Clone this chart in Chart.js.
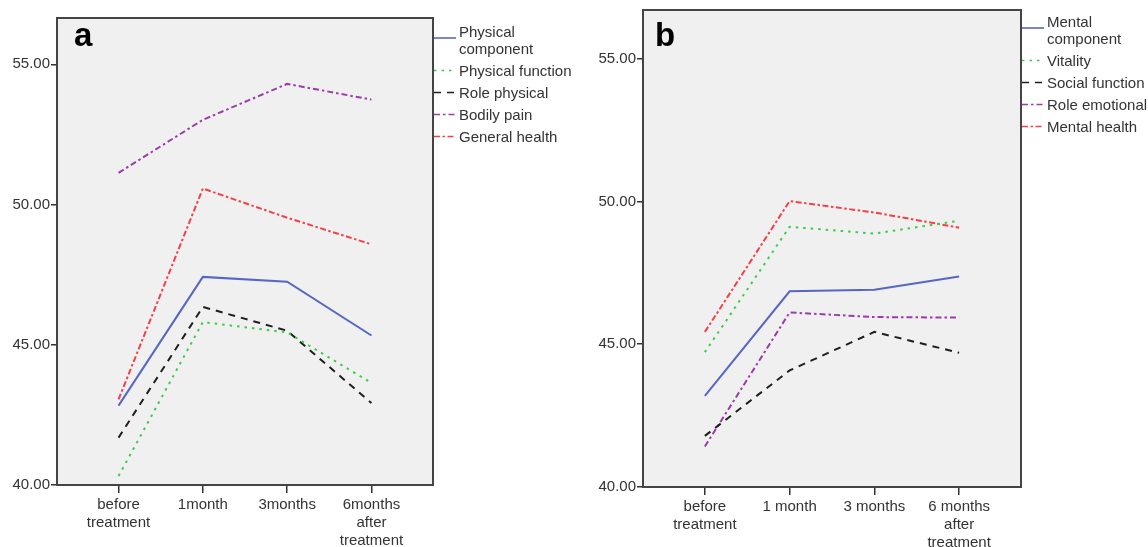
<!DOCTYPE html>
<html>
<head>
<meta charset="utf-8">
<script src="https://cdn.jsdelivr.net/npm/chart.js@4.4.1/dist/chart.umd.min.js"></script>
<style>
  html, body { margin: 0; padding: 0; background: #fff; }
  #wrap { position: relative; width: 1148px; height: 547px; }
  canvas { position: absolute; top: 0; }
</style>
</head>
<body>
<div id="wrap">
  <canvas id="chartA" width="574" height="547" style="left:0"></canvas>
  <canvas id="chartB" width="574" height="547" style="left:574px"></canvas>
</div>
<script>
// time points (x axis)
const timeLabelsA = [['before', 'treatment'], '1month', '3months', ['6months', 'after', 'treatment']];
const timeLabelsB = [['before', 'treatment'], '1 month', '3 months', ['6 months', 'after', 'treatment']];
const yTicks = [40, 45, 50, 55];

// panel a - physical scores
const physicalComponent = [42.83, 47.42, 47.25, 45.33];
const physicalFunction = [40.32, 45.81, 45.44, 43.64];
const rolePhysical = [41.69, 46.35, 45.50, 42.92];
const bodilyPain = [51.13, 53.02, 54.30, 53.74];
const generalHealth = [43.05, 50.57, 49.53, 48.58];

// panel b - mental scores
const mentalComponent = [43.19, 46.85, 46.91, 47.37];
const vitality = [44.72, 49.11, 48.87, 49.32];
const socialFunction = [41.79, 44.08, 45.43, 44.70];
const roleEmotional = [41.42, 46.11, 45.95, 45.93];
const mentalHealth = [45.43, 50.01, 49.61, 49.08];

const FONT = '"Liberation Sans", Arial, sans-serif';
const TXT = '#333';

// line styles shared by both panels
const styles = [
  { color: '#5766c4', dash: [] },
  { color: '#3ccb4c', dash: [2.5, 5] },
  { color: '#1e1e1e', dash: [7, 6] },
  { color: '#9a3da8', dash: [6, 3, 2.5, 3] },
  { color: '#f2404a', dash: [6, 2.5, 2.5, 2.5] }
];

function toPoints(vals) {
  return vals.map((v, i) => ({ x: i, y: v }));
}

function makeDatasets(labels, series) {
  return series.map((vals, i) => ({
    label: labels[i],
    data: toPoints(vals),
    borderColor: styles[i].color,
    borderDash: styles[i].dash,
    borderWidth: 2,
    pointRadius: 0,
    tension: 0,
    fill: false
  }));
}

// background, frame, panel letter and SPSS-like legend
const panelDeco = {
  id: 'panelDeco',
  beforeDatasetsDraw(chart, args, opts) {
    const a = chart.chartArea;
    const ctx = chart.ctx;
    ctx.save();
    ctx.fillStyle = '#f0f0f0';
    ctx.fillRect(a.left, a.top, a.right - a.left, a.bottom - a.top);
    ctx.fillStyle = '#000';
    ctx.font = 'bold 33px ' + FONT;
    ctx.textBaseline = 'alphabetic';
    ctx.fillText(opts.letter, opts.letterX, 46);
    ctx.restore();
  },
  afterDraw(chart, args, opts) {
    const a = chart.chartArea;
    const ctx = chart.ctx;
    ctx.save();
    ctx.strokeStyle = '#444';
    ctx.lineWidth = 2;
    ctx.strokeRect(a.left, a.top, a.right - a.left, a.bottom - a.top);

    ctx.font = '15px ' + FONT;
    ctx.textBaseline = 'middle';
    let y = opts.legendY;
    chart.data.datasets.forEach(ds => {
      const lines = Array.isArray(ds.label) ? ds.label : [ds.label];
      const ly = lines.length > 1 ? y + 5 : y - 1;
      ctx.strokeStyle = ds.borderColor;
      ctx.lineWidth = 1.6;
      ctx.setLineDash(ds.borderDash);
      ctx.beginPath();
      ctx.moveTo(a.right + 1, ly);
      ctx.lineTo(a.right + 23, ly);
      ctx.stroke();
      ctx.setLineDash([]);
      ctx.fillStyle = TXT;
      lines.forEach((t, k) => ctx.fillText(t, a.right + 26, y + k * 16.5));
      y += (lines.length - 1) * 16.5 + 22;
    });
    ctx.restore();
  }
};

function makeConfig(datasets, xLabels, p) {
  return {
    type: 'line',
    data: { datasets: datasets },
    plugins: [panelDeco],
    options: {
      responsive: false,
      animation: false,
      layout: { padding: { top: p.top, right: p.right, left: 0, bottom: 0 } },
      plugins: {
        legend: { display: false },
        tooltip: { enabled: false },
        panelDeco: { letter: p.letter, letterX: p.letterX, legendY: p.legendY }
      },
      scales: {
        x: {
          type: 'linear',
          min: -0.73,
          max: 3.73,
          afterBuildTicks: s => { s.ticks = xLabels.map((_, i) => ({ value: i })); },
          afterFit: s => { s.height = p.xHeight; },
          border: { display: false },
          grid: { drawOnChartArea: false, tickLength: 8, color: '#333', lineWidth: 1.5 },
          ticks: {
            autoSkip: false,
            maxRotation: 0,
            padding: 3,
            color: TXT,
            font: { family: FONT, size: 15, lineHeight: 1.2 },
            callback: (v, i) => xLabels[i]
          }
        },
        y: {
          min: 40,
          max: p.yMax,
          afterBuildTicks: s => { s.ticks = yTicks.map(v => ({ value: v })); },
          afterFit: s => { s.width = p.yWidth; },
          border: { display: false },
          grid: { drawOnChartArea: false, tickLength: 6, color: '#333', lineWidth: 1.5 },
          ticks: {
            padding: 1,
            color: TXT,
            font: { family: FONT, size: 15 },
            callback: v => v.toFixed(2)
          }
        }
      }
    }
  };
}

new Chart(document.getElementById('chartA'), makeConfig(
  makeDatasets([['Physical', 'component'], 'Physical function', 'Role physical', 'Bodily pain', 'General health'],
    [physicalComponent, physicalFunction, rolePhysical, bodilyPain, generalHealth]),
  timeLabelsA,
  { top: 18, right: 141, xHeight: 62, yWidth: 57, yMax: 56.65, letter: 'a', letterX: 74, legendY: 33 }
));

new Chart(document.getElementById('chartB'), makeConfig(
  makeDatasets([['Mental', 'component'], 'Vitality', 'Social function', 'Role emotional', 'Mental health'],
    [mentalComponent, vitality, socialFunction, roleEmotional, mentalHealth]),
  timeLabelsB,
  { top: 10, right: 127, xHeight: 60, yWidth: 69, yMax: 56.7, letter: 'b', letterX: 81, legendY: 23 }
));
</script>
</body>
</html>
